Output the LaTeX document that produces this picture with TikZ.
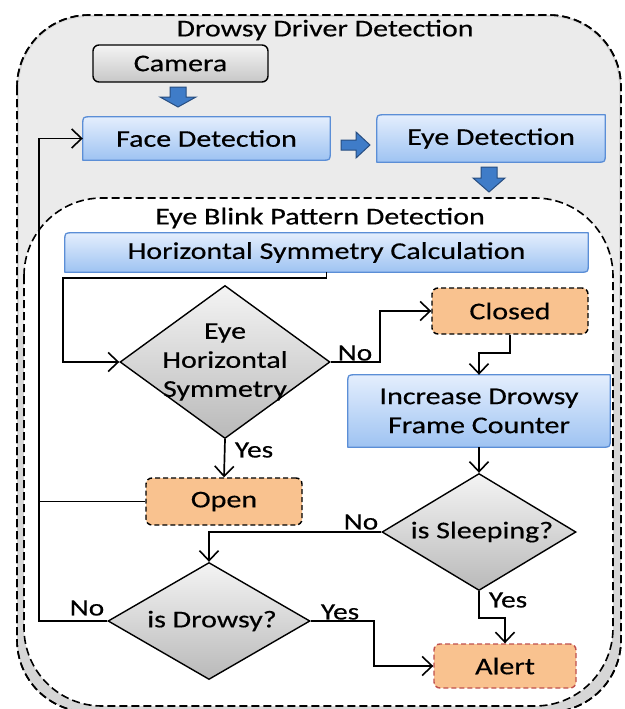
\documentclass[tikz,border=0pt]{standalone}
\usepackage{fontspec}
\setmainfont[FakeStretch=1.25,FakeBold=0.4]{Carlito}
\usetikzlibrary{arrows.meta,shapes.geometric}
\definecolor{outerfill}{HTML}{EBEBEB}
\definecolor{gapfill}{HTML}{D6D6D6}
\definecolor{blueTop}{HTML}{E4EEFD}
\definecolor{blueBot}{HTML}{9EC3F2}
\definecolor{blueEdge}{HTML}{5B8ED6}
\definecolor{arrowFill}{HTML}{3F7CC8}
\definecolor{arrowEdge}{HTML}{274D80}
\definecolor{orangeFill}{HTML}{F9C28F}
\definecolor{alertEdge}{HTML}{C0504D}
\definecolor{grayTop}{HTML}{F4F4F4}
\definecolor{grayBot}{HTML}{B9B9B9}
\tikzset{
  txt/.style={font=\fontsize{24}{28}\selectfont, inner sep=0pt},
  lbl/.style={font=\fontsize{23.5}{26}\selectfont, inner sep=0pt},
  ttl/.style={font=\fontsize{24}{28}\selectfont, inner sep=0pt},
  slot/.style={inner sep=0pt, font=\fontsize{24}{28}\selectfont},
  bluebody/.style={draw=blueEdge, line width=1.3pt, top color=blueTop, bottom color=blueBot, line join=round},
  camerabox/.style={slot, draw=black, line width=1.4pt, rounded corners=6pt, top color=grayTop, bottom color=grayBot!80},
  statebox/.style={slot, draw=black, line width=1.4pt, dashed, dash pattern=on 5pt off 3pt, rounded corners=6pt, fill=orangeFill},
  alertbox/.style={statebox, draw=alertEdge},
  decision/.style={diamond, draw=black, line width=1.4pt, inner sep=0pt, top color=grayTop, bottom color=grayBot, shape aspect=1},
  link/.style={line width=1.7pt, draw=black},
  arr/.style={link, -{Straight Barb[length=10pt,width=19pt,line width=1.6pt]}},
  blockarrow/.style={fill=arrowFill, draw=arrowEdge, line width=1pt, line join=miter},
  container/.style={draw=black, line width=1.6pt, dash pattern=on 8pt off 4pt, rounded corners=72pt}
}
% round diagonal corner rectangle: top-left and bottom-right rounded
\newcommand{\diagframe}[1]{%
  \path[bluebody] ([xshift=8pt]#1.north west) -- (#1.north east) -- ([yshift=8pt]#1.south east)
    .. controls (#1.south east) .. ([xshift=-8pt]#1.south east) -- (#1.south west)
    -- ([yshift=-8pt]#1.north west) .. controls (#1.north west) .. ([xshift=8pt]#1.north west) -- cycle;}
\begin{document}
\begin{tikzpicture}[x=1pt,y=-1pt]
\useasboundingbox (0,0) rectangle (624,709);
% containers
\path[container, fill=gapfill] (17,15) rectangle (621,712);
\path[fill=outerfill, rounded corners=70pt] (19,17) rectangle (619,200);
\path[fill=outerfill] (19,120) rectangle (619,330);
\path[container, fill=white, rounded corners=78pt] (24,198) rectangle (613,706);
\path[container, fill=none] (17,15) rectangle (621,712);
\node[ttl] (title1) at (325,30) {Drowsy Driver Detection};
\node[ttl] (title2) at (320,218) {Eye Blink Pattern Detection};

% process boxes (shape slots)
\node[camerabox, minimum width=175pt, minimum height=37pt] (camera) at (180.5,63.5) {Camera};
\node[slot, minimum width=247pt, minimum height=43pt] (face) at (206.5,138.5) {};
\node[slot, minimum width=228pt, minimum height=47pt] (eye) at (491,138.5) {};
\node[slot, minimum width=523pt, minimum height=39pt] (hsc) at (326.5,252.5) {};
\node[slot, minimum width=262pt, minimum height=72pt] (idfc) at (479,411) {};
\diagframe{face}
\diagframe{eye}
\diagframe{hsc}
\diagframe{idfc}
\node[txt] at (face) {Face Detection};
\node[txt] at (eye) {Eye Detection};
\node[txt] at (hsc) {Horizontal Symmetry Calculation};
\node[txt, align=center] at (idfc) {Increase Drowsy\\[1pt]Frame Counter};

\node[statebox, minimum width=156pt, minimum height=46pt] (closed) at (510,311) {Closed};
\node[statebox, minimum width=156pt, minimum height=47pt] (open) at (224,501.5) {Open};
\node[alertbox, minimum width=142pt, minimum height=44pt] (alert) at (505,666) {Alert};

\node[decision, minimum width=210pt, minimum height=153pt] (d1) at (225,362) {};
\node[txt, align=center] at (d1) {Eye\\[1pt]Horizontal\\[1pt]Symmetry};
\node[decision, minimum width=194pt, minimum height=117pt] (d2) at (479,532) {};
\node[txt] at ([xshift=3pt]d2.center) {is Sleeping?};
\node[decision, minimum width=202pt, minimum height=117pt] (d3) at (209,621) {};
\node[txt] at ([xshift=3pt]d3.center) {is Drowsy?};

% block arrows
\path[blockarrow] (170,87) -- (186,87) -- (186,97) -- (196,97) -- (178,107) -- (160,97) -- (170,97) -- cycle;
\path[blockarrow] (341,140) -- (356,140) -- (356,132) -- (370,145) -- (356,158) -- (356,150) -- (341,150) -- cycle;
\path[blockarrow] (481,167) -- (497,167) -- (497,178) -- (505,178) -- (489,192) -- (473,178) -- (481,178) -- cycle;

% connectors
\coordinate (c1) at (63,278);
\coordinate (c2) at (380,362);
\coordinate (c3) at (479,353);
\coordinate (c4) at (39,621);
\coordinate (c5) at (479,618);
\coordinate (c6) at (374,621);
\draw[arr] (hsc.south) |- (c1) |- (d1.west);
\draw[arr] (d1.east) -- (c2) |- (closed.west);
\draw[arr] (closed.south) |- (c3) -- (idfc.north);
\draw[arr] (d1.south) -- (open.north);
\draw[link] (open.west) -- (c4 |- open.west);
\draw[arr] (d3.west) -- (c4) |- (face.west);
\draw[arr] (idfc.south) -- (d2.north);
\draw[arr] (d2.west) -| (d3.north);
\draw[arr] (d2.south) -- (c5) -| (alert.north);
\draw[arr] (d3.east) -- (c6) |- (alert.west);

% labels
\node[lbl] (no1) at (355,353) {No};
\node[lbl] (yes1) at (254,450) {Yes};
\node[lbl] (no2) at (361,522) {No};
\node[lbl] (no3) at (87,608) {No};
\node[lbl] (yes2) at (340,612) {Yes};
\node[lbl] (yes3) at (508,600) {Yes};
\end{tikzpicture}
\end{document}
